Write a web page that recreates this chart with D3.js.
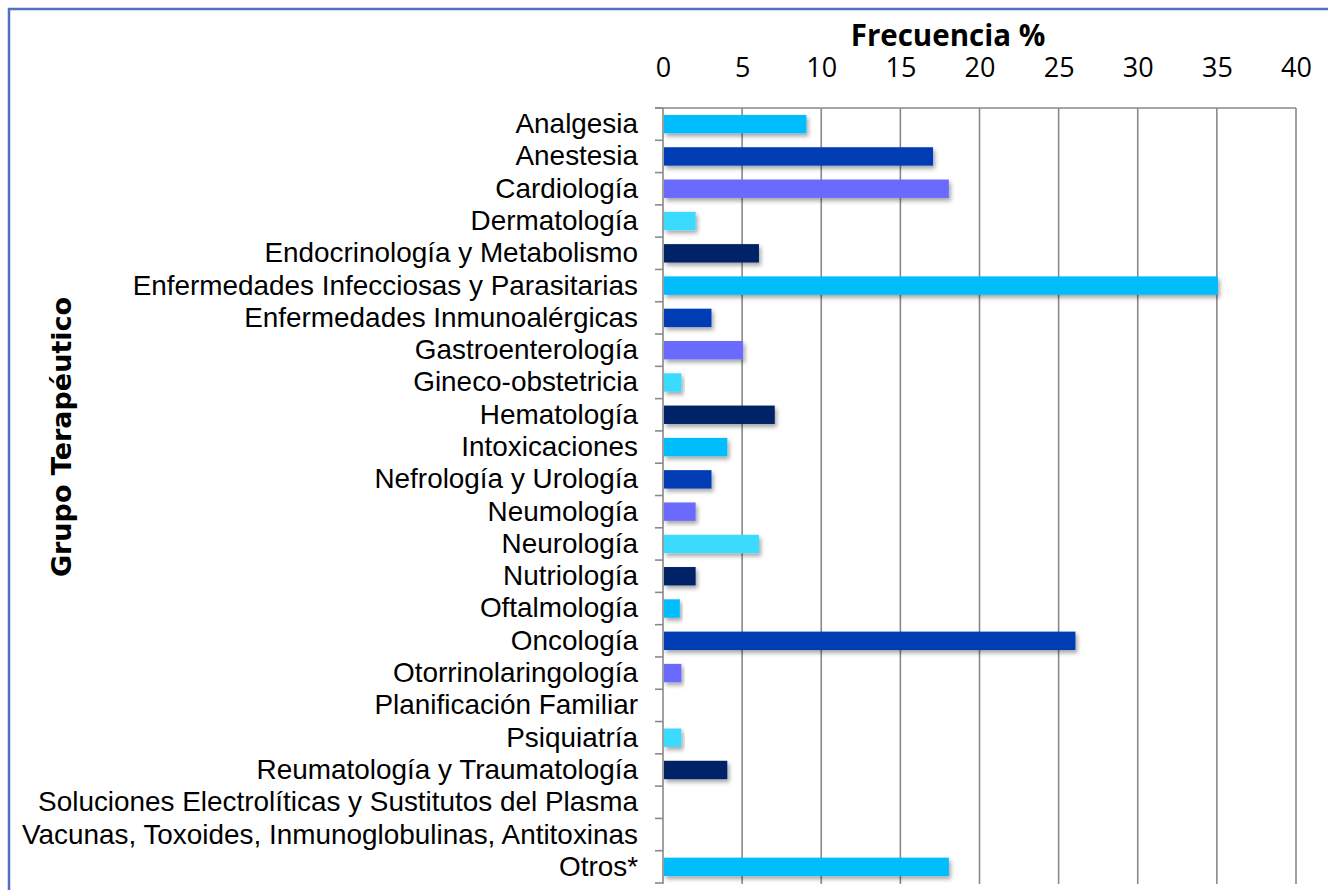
<!DOCTYPE html>
<html lang="es">
<head>
    <meta charset="UTF-8">
    <title>Frecuencia por Grupo Terapéutico</title>
    <script src="https://d3js.org/d3.v7.min.js"></script>
    <style>
        body { margin: 0; background: #fff; }
        .cat text { font-family: "Liberation Sans", Arial, sans-serif; font-size: 27.9px; fill: #000; }
        .xlab text { font-family: "Open Sans", sans-serif; font-size: 27px; fill: #000; }
    </style>
</head>
<body>
<svg width="1328" height="890"></svg>

<script>
    // categories (top to bottom)
    const categorias = [
        "Analgesia", "Anestesia", "Cardiología", "Dermatología",
        "Endocrinología y Metabolismo", "Enfermedades Infecciosas y Parasitarias",
        "Enfermedades Inmunoalérgicas", "Gastroenterología", "Gineco-obstetricia",
        "Hematología", "Intoxicaciones", "Nefrología y Urología", "Neumología",
        "Neurología", "Nutriología", "Oftalmología", "Oncología",
        "Otorrinolaringología", "Planificación Familiar", "Psiquiatría",
        "Reumatología y Traumatología", "Soluciones Electrolíticas y Sustitutos del Plasma",
        "Vacunas, Toxoides, Inmunoglobulinas, Antitoxinas", "Otros*"
    ];
    const frecuencia = [9, 17, 18, 2, 6, 35, 3, 5, 1.1, 7, 4, 3, 2, 6, 2, 1, 26, 1.1, 0, 1.1, 4, 0, 0, 18];
    const colores = [
        "#05bdfd", "#053eb4", "#6b6bff", "#3bdbff", "#042266",
        "#05bdfd", "#053eb4", "#6b6bff", "#3bdbff", "#042266",
        "#05bdfd", "#053eb4", "#6b6bff", "#3bdbff", "#042266",
        "#05bdfd", "#053eb4", "#6b6bff", "#3bdbff", "#3bdbff",
        "#042266", "#05bdfd", "#053eb4", "#05bdfd"
    ];
    const xTicks = [0, 5, 10, 15, 20, 25, 30, 35, 40];

    const svg = d3.select("svg");
    const mLeft = 663, mRight = 1296, mTop = 108, mBottom = 883;

    const defs = svg.append("defs");
    defs.append("filter").attr("id", "sombra")
        .attr("x", "-5%").attr("y", "-30%").attr("width", "120%").attr("height", "180%")
        .append("feDropShadow")
        .attr("dx", 2).attr("dy", 3).attr("stdDeviation", 2)
        .attr("flood-color", "#000").attr("flood-opacity", 0.35);

    // outer frame
    svg.append("path")
        .attr("d", "M9,900 L9,9 L1340,9")
        .attr("fill", "none").attr("stroke", "#5670c0").attr("stroke-width", 2.5);

    const x = d3.scaleLinear().domain([0, 40]).range([mLeft, mRight]);
    const y = d3.scaleBand().domain(categorias).range([mTop, mBottom])
        .paddingInner(0.43).paddingOuter(0.215);
    const yEdge = d3.scaleLinear().domain([0, categorias.length]).range([mTop, mBottom]);

    // vertical gridlines
    svg.append("g").selectAll("line")
        .data(xTicks)
        .enter()
        .append("line")
        .attr("x1", d => x(d)).attr("x2", d => x(d))
        .attr("y1", mTop).attr("y2", mBottom + 1)
        .attr("stroke", "#898989").attr("stroke-width", 1.6);

    // top line
    svg.append("line")
        .attr("x1", mLeft - 8).attr("x2", mRight)
        .attr("y1", mTop).attr("y2", mTop)
        .attr("stroke", "#898989").attr("stroke-width", 1.6);

    // category ticks
    svg.append("g").selectAll("line")
        .data(d3.range(categorias.length + 1))
        .enter()
        .append("line")
        .attr("x1", mLeft - 8).attr("x2", mLeft)
        .attr("y1", d => yEdge(d)).attr("y2", d => yEdge(d))
        .attr("stroke", "#898989").attr("stroke-width", 1.6);

    // bars
    svg.append("g").selectAll("rect")
        .data(categorias)
        .enter()
        .append("rect")
        .attr("x", x(0) + 1)
        .attr("y", d => y(d))
        .attr("width", (d, i) => Math.max(0, x(frecuencia[i]) - x(0)))
        .attr("height", y.bandwidth())
        .attr("fill", (d, i) => colores[i])
        .attr("filter", "url(#sombra)");

    // top axis labels
    const xAxis = svg.append("g").attr("class", "xlab")
        .attr("transform", "translate(0,77)")
        .call(d3.axisTop(x).tickValues(xTicks).tickSize(0).tickPadding(0));
    xAxis.select(".domain").remove();

    // category labels
    const yAxis = svg.append("g").attr("class", "cat")
        .attr("transform", `translate(${mLeft},0)`)
        .call(d3.axisLeft(y).tickSize(0).tickPadding(25));
    yAxis.select(".domain").remove();

    svg.append("text")
        .attr("x", 948).attr("y", 46)
        .attr("text-anchor", "middle")
        .style("font-family", "'Open Sans', sans-serif")
        .style("font-weight", "bold")
        .style("font-size", "29.5px")
        .text("Frecuencia %");

    svg.append("text")
        .attr("transform", "translate(71,437) rotate(-90)")
        .attr("text-anchor", "middle")
        .style("font-family", "'DejaVu Sans', sans-serif")
        .style("font-weight", "bold")
        .style("font-size", "27px")
        .text("Grupo Terapéutico");
</script>
</body>
</html>
